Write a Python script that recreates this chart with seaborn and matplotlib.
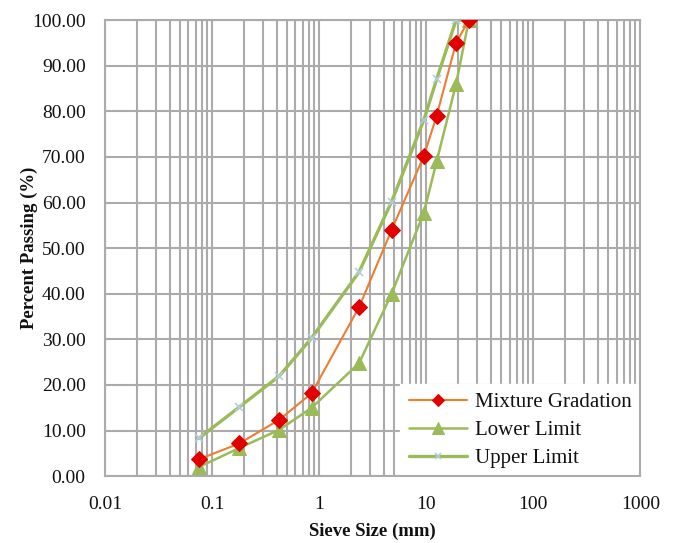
import matplotlib
matplotlib.use("Agg")
import matplotlib.pyplot as plt
import seaborn as sns
import pandas as pd
from matplotlib.ticker import LogLocator, FixedLocator

# Sieve sizes (mm) and percent passing
sieve_mm = [0.075, 0.18, 0.425, 0.85, 2.36, 4.75, 9.5, 12.5, 19, 25]
mixture = [3.7, 7.2, 12.4, 18.2, 37.1, 54.0, 70.2, 79.0, 95.0, 100.0]
lower_limit = [2.0, 6.2, 10.2, 15.0, 24.8, 40.0, 57.8, 69.0, 86.0, 100.0]
upper_limit = [8.3, 15.2, 22.0, 30.3, 44.8, 60.2, 78.1, 87.0, 100.0, 100.0]

yticks = [0, 10, 20, 30, 40, 50, 60, 70, 80, 90, 100]
xticks = [0.01, 0.1, 1, 10, 100, 1000]
xtick_labels = ["0.01", "0.1", "1", "10", "100", "1000"]

sns.set_style("white")
plt.rcParams["font.family"] = ["Liberation Serif", "DejaVu Serif"]

df = pd.DataFrame({
    "size": sieve_mm,
    "Mixture Gradation": mixture,
    "Lower Limit": lower_limit,
    "Upper Limit": upper_limit,
})

fig = plt.figure(figsize=(6.74, 5.43), dpi=100)
ax = fig.add_axes([0.156, 0.123, 0.794, 0.840])

grid_col = "#ABABAB"
text_col = "#111111"

sns.lineplot(data=df, x="size", y="Mixture Gradation", ax=ax, color="#ED7D31",
             linewidth=1.5, marker="D", markersize=8, markerfacecolor="#E00000",
             markeredgecolor="#E00000", label="Mixture Gradation", zorder=4)
sns.lineplot(data=df, x="size", y="Lower Limit", ax=ax, color="#9BBB59",
             linewidth=1.8, marker="^", markersize=10, markerfacecolor="#9BBB59",
             markeredgecolor="#9BBB59", label="Lower Limit", zorder=3)
sns.lineplot(data=df, x="size", y="Upper Limit", ax=ax, color="#9BBB59",
             linewidth=2.4, marker="x", markersize=6, markeredgewidth=1.2,
             markeredgecolor="#B4CCE0", label="Upper Limit", zorder=3)

ax.set_xscale("log")
ax.set_xlim(0.01, 1000)
ax.set_ylim(0, 100)
ax.xaxis.set_major_locator(FixedLocator(xticks))
ax.set_xticklabels(xtick_labels)
ax.xaxis.set_minor_locator(LogLocator(base=10, subs=range(2, 10), numticks=20))
ax.set_yticks(yticks)
ax.set_yticklabels([f"{v:.2f}" for v in yticks])

ax.grid(True, which="major", axis="both", color=grid_col, linewidth=1.5, zorder=0)
ax.grid(True, which="minor", axis="x", color=grid_col, linewidth=1.5, zorder=0)
ax.set_axisbelow(True)

for sp in ax.spines.values():
    sp.set_color(grid_col)
    sp.set_linewidth(1.5)

ax.tick_params(axis="y", which="major", labelsize=14, length=0, pad=14,
               labelcolor=text_col)
ax.tick_params(axis="x", which="major", labelsize=14, pad=14,
               labelcolor=text_col, direction="in", length=6,
               color=grid_col, width=1)
ax.tick_params(axis="x", which="minor", direction="in", length=4,
               color=grid_col, width=1)

ax.set_xlabel("Sieve Size (mm)", fontsize=13.5, fontweight="bold", labelpad=7,
              color=text_col)
ax.set_ylabel("Percent Passing (%)", fontsize=13.5, fontweight="bold", labelpad=-4,
              color=text_col)

leg = ax.legend(loc="lower right", bbox_to_anchor=(1.0, 0.0), borderaxespad=0,
                frameon=True, fancybox=False, fontsize=15, handlelength=2.8,
                labelspacing=0.4, borderpad=0.4, handletextpad=0.4,
                markerscale=0.8)
leg.get_frame().set_facecolor("white")
leg.get_frame().set_edgecolor("white")
leg.get_frame().set_alpha(1)
for t in leg.get_texts():
    t.set_color(text_col)
leg.set_zorder(2)

fig.savefig("out.png", dpi=100)
